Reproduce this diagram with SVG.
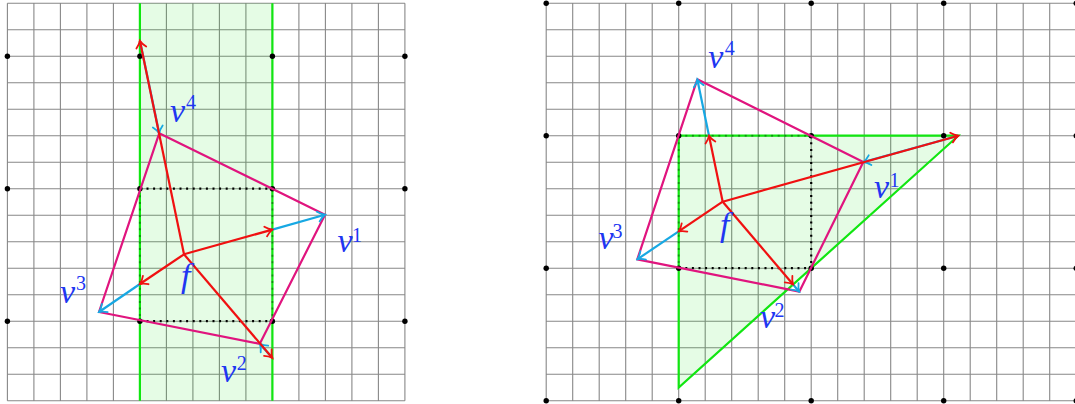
<svg xmlns="http://www.w3.org/2000/svg" width="1075" height="404" viewBox="0 0 1075 404">
<style>
.grid{fill:none;stroke:#888;stroke-width:1.1}
.region{fill:#00dd00;fill-opacity:0.1;stroke:none}
.gline{fill:none;stroke:#11e611;stroke-width:2.2}
.dotted{fill:none;stroke:#000;stroke-width:2.2;stroke-dasharray:2 4.6}
.dotted-faint{fill:none;stroke:#000;stroke-width:2;stroke-dasharray:2 4.6;stroke-opacity:0.35}
.poly{fill:none;stroke:#e0147e;stroke-width:2.2;stroke-linejoin:round}
.red{fill:none;stroke:#f01010;stroke-width:2.2;marker-end:url(#ar)}
.cyan{fill:none;stroke:#17a8e3;stroke-width:2.2;marker-end:url(#ac)}
.dot{fill:#000}
.lab{font-family:"Liberation Serif","Times New Roman",serif;font-style:italic;font-size:34px;fill:#2036f2}
.sup{font-family:"Liberation Serif","Times New Roman",serif;font-style:normal;font-size:20px;fill:#2036f2}
</style>
<defs>
<marker id="ar" viewBox="-10 -7 12 14" refX="0" refY="0" markerWidth="12" markerHeight="14" markerUnits="userSpaceOnUse" orient="auto">
<path d="M-7,-5 C-4,-1.8 -1.2,-0.5 0,0 C-1.2,0.5 -4,1.8 -7,5" fill="none" stroke="#f01010" stroke-width="1.8" stroke-linecap="round"/>
</marker>
<marker id="ac" viewBox="-10 -7 12 14" refX="0" refY="0" markerWidth="12" markerHeight="14" markerUnits="userSpaceOnUse" orient="auto">
<path d="M-7,-5 C-4,-1.8 -1.2,-0.5 0,0 C-1.2,0.5 -4,1.8 -7,5" fill="none" stroke="#17a8e3" stroke-width="1.8" stroke-linecap="round"/>
</marker>
</defs>
<rect width="1075" height="404" fill="#fff"/>

<g id="left-panel">
<path class="grid" d="M7.4 3.2V400.7M33.9 3.2V400.7M60.4 3.2V400.7M86.9 3.2V400.7M113.4 3.2V400.7M139.9 3.2V400.7M166.4 3.2V400.7M192.9 3.2V400.7M219.4 3.2V400.7M245.9 3.2V400.7M272.4 3.2V400.7M298.9 3.2V400.7M325.4 3.2V400.7M351.9 3.2V400.7M378.4 3.2V400.7M404.9 3.2V400.7M7.4 3.2H404.9M7.4 29.7H404.9M7.4 56.2H404.9M7.4 82.7H404.9M7.4 109.2H404.9M7.4 135.7H404.9M7.4 162.2H404.9M7.4 188.7H404.9M7.4 215.2H404.9M7.4 241.7H404.9M7.4 268.2H404.9M7.4 294.7H404.9M7.4 321.2H404.9M7.4 347.7H404.9M7.4 374.2H404.9M7.4 400.7H404.9"/>
<rect id="strip" class="region" x="139.9" y="3.2" width="132.5" height="397.5"/>
<path class="gline" d="M139.9 3.2V400.7M272.4 3.2V400.7"/>
<path class="dotted" d="M139.9 188.7H272.4M139.9 321.2H272.4"/>
<path class="dotted-faint" d="M139.9 188.7V321.2M272.4 188.7V321.2"/>
<g id="left-dots">
<circle class="dot" cx="7.4" cy="56.2" r="2.7"/><circle class="dot" cx="139.9" cy="56.2" r="2.7"/><circle class="dot" cx="272.4" cy="56.2" r="2.7"/><circle class="dot" cx="404.9" cy="56.2" r="2.7"/>
<circle class="dot" cx="7.4" cy="188.7" r="2.7"/><circle class="dot" cx="139.9" cy="188.7" r="2.7"/><circle class="dot" cx="272.4" cy="188.7" r="2.7"/><circle class="dot" cx="404.9" cy="188.7" r="2.7"/>
<circle class="dot" cx="7.4" cy="321.2" r="2.7"/><circle class="dot" cx="139.9" cy="321.2" r="2.7"/><circle class="dot" cx="272.4" cy="321.2" r="2.7"/><circle class="dot" cx="404.9" cy="321.2" r="2.7"/>
</g>
<polygon id="left-quad" class="poly" points="159.2,133.3 325,214.7 259.8,343.8 99,312"/>
<g id="left-connectors">
<line class="cyan" x1="139.9" y1="40.7" x2="159.2" y2="133.3"/>
<line class="cyan" x1="272.4" y1="229.6" x2="325" y2="214.7"/>
<line class="cyan" x1="139.9" y1="284" x2="99" y2="312"/>
<line class="cyan" x1="272.4" y1="358" x2="259.8" y2="343.8"/>
<line class="red" x1="184" y1="254.3" x2="139.9" y2="40.7"/>
<line class="red" x1="184" y1="254.3" x2="272.4" y2="229.6"/>
<line class="red" x1="184" y1="254.3" x2="139.9" y2="284"/>
<line class="red" x1="184" y1="254.3" x2="272.4" y2="358"/>
</g>
<g id="left-v4"><text class="lab" x="170" y="122">v</text><text class="sup" x="186" y="109">4</text></g>
<g id="left-v1"><text class="lab" x="337.5" y="251.5">v</text><text class="sup" x="352" y="242">1</text></g>
<g id="left-v3"><text class="lab" x="60" y="303">v</text><text class="sup" x="76" y="290">3</text></g>
<g id="left-v2"><text class="lab" x="221" y="381.7">v</text><text class="sup" x="236.7" y="370">2</text></g>
<g id="left-f"><text class="lab" x="181" y="287">f</text></g>
</g>

<g id="right-panel">
<path class="grid" d="M546.2 3.2V400.7M572.7 3.2V400.7M599.2 3.2V400.7M625.7 3.2V400.7M652.2 3.2V400.7M678.7 3.2V400.7M705.2 3.2V400.7M731.7 3.2V400.7M758.2 3.2V400.7M784.7 3.2V400.7M811.2 3.2V400.7M837.7 3.2V400.7M864.2 3.2V400.7M890.7 3.2V400.7M917.2 3.2V400.7M943.7 3.2V400.7M970.2 3.2V400.7M996.7 3.2V400.7M1023.2 3.2V400.7M1049.7 3.2V400.7M1076.2 3.2V400.7M546.2 3.2H1076.2M546.2 29.7H1076.2M546.2 56.2H1076.2M546.2 82.7H1076.2M546.2 109.2H1076.2M546.2 135.7H1076.2M546.2 162.2H1076.2M546.2 188.7H1076.2M546.2 215.2H1076.2M546.2 241.7H1076.2M546.2 268.2H1076.2M546.2 294.7H1076.2M546.2 321.2H1076.2M546.2 347.7H1076.2M546.2 374.2H1076.2M546.2 400.7H1076.2"/>
<polygon id="triangle" class="region" points="678.7,135.7 958.3,135.7 678.7,387.6"/>
<polygon class="gline" points="678.7,135.7 958.3,135.7 678.7,387.6"/>
<path class="dotted" d="M811.2 135.7V268.2M678.7 268.2H811.2"/>
<path class="dotted-faint" d="M678.7 135.7H811.2M678.7 135.7V268.2"/>
<g id="right-dots">
<circle class="dot" cx="546.2" cy="3.2" r="2.7"/><circle class="dot" cx="678.7" cy="3.2" r="2.7"/><circle class="dot" cx="811.2" cy="3.2" r="2.7"/><circle class="dot" cx="943.7" cy="3.2" r="2.7"/><circle class="dot" cx="1076.2" cy="3.2" r="2.7"/>
<circle class="dot" cx="546.2" cy="135.7" r="2.7"/><circle class="dot" cx="678.7" cy="135.7" r="2.7"/><circle class="dot" cx="811.2" cy="135.7" r="2.7"/><circle class="dot" cx="943.7" cy="135.7" r="2.7"/><circle class="dot" cx="1076.2" cy="135.7" r="2.7"/>
<circle class="dot" cx="546.2" cy="268.2" r="2.7"/><circle class="dot" cx="678.7" cy="268.2" r="2.7"/><circle class="dot" cx="811.2" cy="268.2" r="2.7"/><circle class="dot" cx="943.7" cy="268.2" r="2.7"/><circle class="dot" cx="1076.2" cy="268.2" r="2.7"/>
<circle class="dot" cx="546.2" cy="400.7" r="2.7"/><circle class="dot" cx="678.7" cy="400.7" r="2.7"/><circle class="dot" cx="811.2" cy="400.7" r="2.7"/><circle class="dot" cx="943.7" cy="400.7" r="2.7"/><circle class="dot" cx="1076.2" cy="400.7" r="2.7"/>
</g>
<polygon id="right-quad" class="poly" points="697.3,79.3 863.3,162 799.3,291.7 637.3,259.3"/>
<g id="right-connectors">
<line class="cyan" x1="709" y1="135.7" x2="697.3" y2="79.3"/>
<line class="cyan" x1="958.3" y1="135.7" x2="863.3" y2="162"/>
<line class="cyan" x1="678.7" y1="231.4" x2="637.3" y2="259.3"/>
<line class="cyan" x1="793.1" y1="284.5" x2="799.3" y2="291.7"/>
<line class="red" x1="722.7" y1="201.7" x2="709" y2="135.7"/>
<line class="red" x1="722.7" y1="201.7" x2="958.3" y2="135.7"/>
<line class="red" x1="722.7" y1="201.7" x2="678.7" y2="231.4"/>
<line class="red" x1="722.7" y1="201.7" x2="793.1" y2="284.5"/>
</g>
<g id="right-v4"><text class="lab" x="708.3" y="68">v</text><text class="sup" x="724.8" y="55">4</text></g>
<g id="right-v1"><text class="lab" x="874" y="198">v</text><text class="sup" x="889.5" y="186.7">1</text></g>
<g id="right-v3"><text class="lab" x="598.6" y="249">v</text><text class="sup" x="612.6" y="238">3</text></g>
<g id="right-v2"><text class="lab" x="760" y="328">v</text><text class="sup" x="774.4" y="317">2</text></g>
<g id="right-f"><text class="lab" x="720" y="236">f</text></g>
</g>
</svg>
